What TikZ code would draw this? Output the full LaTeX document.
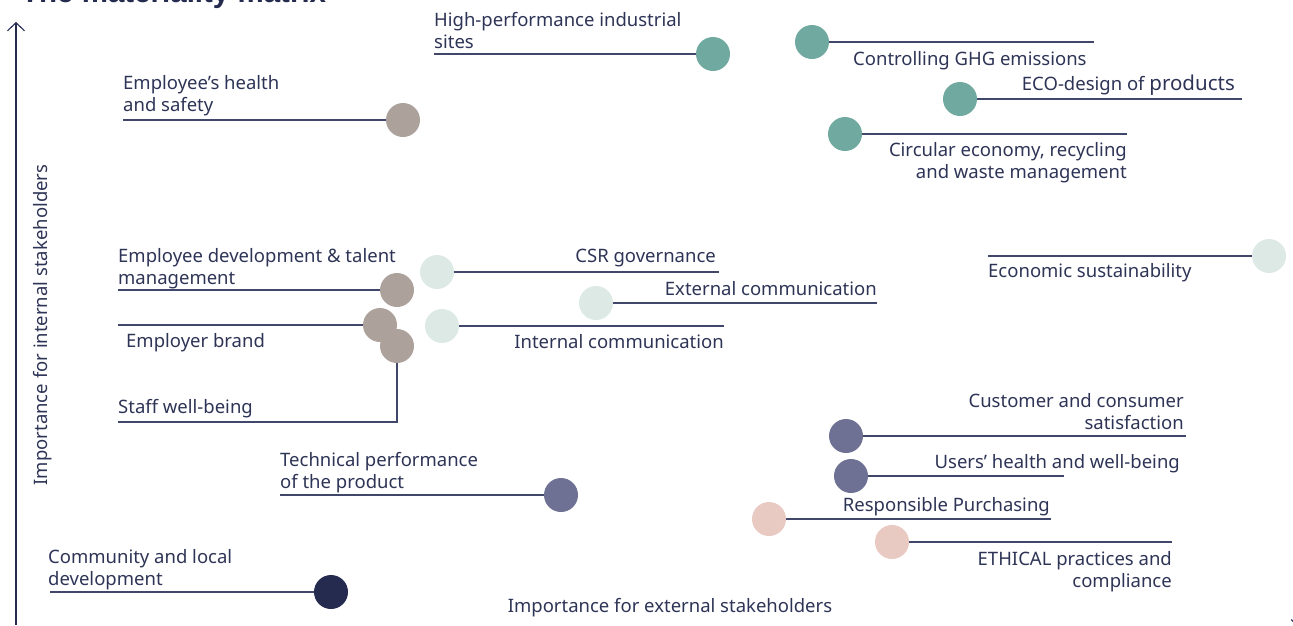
\documentclass[tikz,border=0pt]{standalone}
\usepackage{fontspec}
\setmainfont{Noto Sans}
\newfontfamily\titlefont{Liberation Sans}
\usetikzlibrary{arrows.meta}
\definecolor{ink}{HTML}{2E3456}
\definecolor{rulec}{HTML}{41466B}
\definecolor{cteal}{HTML}{6FA9A0}
\definecolor{ctaupe}{HTML}{ACA29B}
\definecolor{cmint}{HTML}{DDE9E4}
\definecolor{cslate}{HTML}{6E7194}
\definecolor{cnavy}{HTML}{252B4F}
\definecolor{cblush}{HTML}{E8CAC2}
\tikzset{
  dot/.style={circle, inner sep=0pt, minimum size=34pt, fill=#1},
  lab/.style={inner sep=0pt, text=ink, font=\fontsize{18.5}{22}\selectfont},
  conn/.style={draw=rulec, line width=1.2pt},
  axisline/.style={draw=cnavy, line width=1.1pt},
}
\begin{document}
\begin{tikzpicture}[x=1pt,y=-1pt]
\useasboundingbox (0,0) rectangle (1293,625);
% title (cut off at top)
\node[inner sep=0pt, anchor=base west, text=cnavy, font=\titlefont\fontsize{29.5}{32}\selectfont\bfseries] (title) at (21,2) {The materiality matrix};
% axes
\coordinate (ax0) at (16,625);
\coordinate (ax1) at (16,22);
\draw[axisline, -{Straight Barb[length=8pt,width=17pt]}] (ax0) -- (ax1);
\coordinate (bx0) at (16,628);
\coordinate (bx1) at (1300,628);
\draw[axisline, -{Straight Barb[length=8pt,width=17pt]}] (bx0) -- (bx1);
\node[lab, rotate=90, anchor=base] (ylab) at (47,325) {Importance for internal stakeholders};
\node[lab, anchor=north] (xlab) at (670,598) {Importance for external stakeholders};
% coordinates of free ends
\coordinate (e1) at (123,120);
\coordinate (e2) at (434,54);
\coordinate (e3) at (1094,42);
\coordinate (e4) at (1242,99);
\coordinate (e5) at (1127,134);
\coordinate (e6) at (988,256);
\coordinate (e7) at (118,290);
\coordinate (e8) at (719,272);
\coordinate (e9) at (877,303);
\coordinate (e10) at (118,325);
\coordinate (e11) at (724,326);
\coordinate (e12) at (118,422);
\coordinate (e13) at (1186,436);
\coordinate (e14) at (1064,476);
\coordinate (e15) at (1051,519);
\coordinate (e16) at (1172,542);
\coordinate (e17) at (280,495);
\coordinate (e18) at (50,592);
% circles
\node[dot=ctaupe] (c1) at (403,120) {};
\node[dot=cteal] (c2) at (713,54) {};
\node[dot=cteal] (c3) at (812,42) {};
\node[dot=cteal] (c4) at (960,99) {};
\node[dot=cteal] (c5) at (845,134) {};
\node[dot=cmint] (c6) at (1269,256) {};
\node[dot=ctaupe] (c7) at (397,290) {};
\node[dot=cmint] (c8) at (437,272) {};
\node[dot=cmint] (c9) at (596,303) {};
\node[dot=ctaupe] (c10) at (380,325) {};
\node[dot=cmint] (c11) at (442,326) {};
\node[dot=ctaupe] (c12) at (397,346) {};
\node[dot=cslate] (c13) at (846,436) {};
\node[dot=cslate] (c14) at (851,476) {};
\node[dot=cblush] (c15) at (769,519) {};
\node[dot=cblush] (c16) at (892,542) {};
\node[dot=cslate] (c17) at (561,495) {};
\node[dot=cnavy] (c18) at (331,592) {};
% connectors
\draw[conn] (e1) -- (c1);
\draw[conn] (e2) -- (c2);
\draw[conn] (c3) -- (e3);
\draw[conn] (c4) -- (e4);
\draw[conn] (c5) -- (e5);
\draw[conn] (e6) -- (c6);
\draw[conn] (e7) -- (c7);
\draw[conn] (c8) -- (e8);
\draw[conn] (c9) -- (e9);
\draw[conn] (e10) -- (c10);
\draw[conn] (c11) -- (e11);
\draw[conn] (c12) |- (e12);
\draw[conn] (c13) -- (e13);
\draw[conn] (c14) -- (e14);
\draw[conn] (c15) -- (e15);
\draw[conn] (c16) -- (e16);
\draw[conn] (e17) -- (c17);
\draw[conn] (e18) -- (c18);
% labels
\node[lab, align=left, anchor=north west] (t1) at (123,75) {Employee’s health\\and safety};
\node[lab, align=left, anchor=north west] (t2) at (434,12) {High-performance industrial\\sites};
\node[lab, anchor=north west] (t3) at (853,51) {Controlling GHG emissions};
\node[lab, anchor=north east] (t4) at (1235,75) {ECO-design of {\fontsize{20.5}{22}\selectfont products}};
\node[lab, align=right, anchor=north east] (t5) at (1127,142) {Circular economy, recycling\\and waste management};
\node[lab, anchor=north west] (t6) at (988,263) {Economic sustainability};
\node[lab, align=left, anchor=north west] (t7) at (118,248) {Employee development \& talent\\management};
\node[lab, anchor=north east] (t8) at (716,249) {CSR governance};
\node[lab, anchor=north east] (t9) at (877,281) {External communication};
\node[lab, anchor=north west] (t10) at (126,333) {Employer brand};
\node[lab, anchor=north east] (t11) at (724,334) {Internal communication};
\node[lab, anchor=north west] (t12) at (118,399) {Staff well-being};
\node[lab, align=right, anchor=north east] (t13) at (1184,393) {Customer and consumer\\satisfaction};
\node[lab, anchor=north east] (t14) at (1180,454) {Users’ health and well-being};
\node[lab, anchor=north east] (t15) at (1050,497) {Responsible Purchasing};
\node[lab, align=right, anchor=north east] (t16) at (1172,551) {ETHICAL practices and\\compliance};
\node[lab, align=left, anchor=north west] (t17) at (280,452) {Technical performance\\of the product};
\node[lab, align=left, anchor=north west] (t18) at (48,549) {Community and local\\development};
\end{tikzpicture}
\end{document}
